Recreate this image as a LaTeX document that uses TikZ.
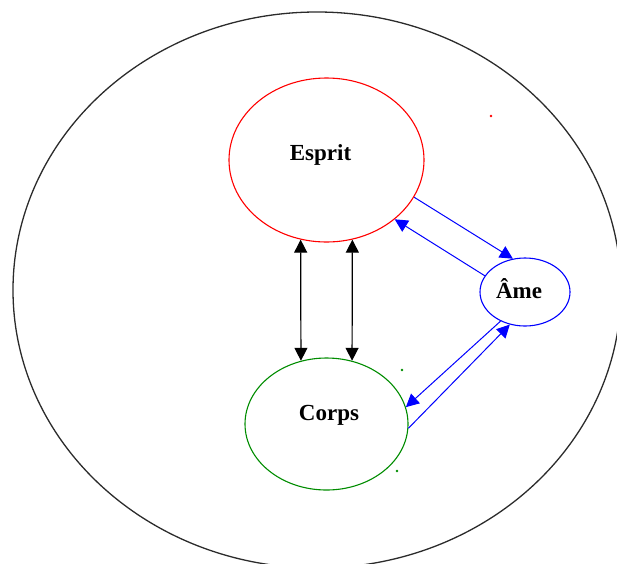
\documentclass[tikz,border=0pt]{standalone}
\usepackage{fontspec}
\setmainfont{Liberation Serif}
\usetikzlibrary{shapes.geometric,arrows.meta}
\definecolor{rouge}{HTML}{FF0000}
\definecolor{vert}{HTML}{008C00}
\definecolor{bleu}{HTML}{0000FF}
\definecolor{encre}{HTML}{2B2B2B}
\tikzset{
  bulle/.style={ellipse,inner sep=0pt,line width=1.1pt},
  nom/.style={font=\fontsize{23}{27}\selectfont\bfseries,text=black},
  lien/.style={{Triangle[length=13pt,width=13pt]}-{Triangle[length=13pt,width=13pt]},line width=1.2pt,black},
  fleche/.style={-{Triangle[length=13pt,width=13pt]},line width=1pt,bleu}
}

\begin{document}
\begin{tikzpicture}[x=1pt,y=-1pt]
  \useasboundingbox (0,0) rectangle (617,563);
  % cadre
  \draw[encre,line width=1.3pt] (317,290) ellipse [x radius=304,y radius=278];
  % les trois bulles
  \node[bulle,draw=rouge,minimum width=195pt,minimum height=164pt,
        label={[nom,xshift=-6pt,yshift=5pt]center:Esprit}] (esprit) at (326.5,160) {};
  \node[bulle,draw=vert,minimum width=163pt,minimum height=132pt,
        label={[nom,xshift=2.5pt,yshift=9pt]center:Corps}] (corps) at (326.5,424) {};
  \node[bulle,draw=bleu,minimum width=90pt,minimum height=68pt,
        label={[nom,xshift=-6pt,yshift=3pt]center:Âme}] (ame) at (525,292) {};
  % esprit <-> corps
  \draw[lien] (esprit.252) -- (corps.112);
  \draw[lien] (esprit.288) -- (corps.68);
  % liens avec l'ame
  \draw[fleche] (esprit.337) -- (ame.110);
  \draw[fleche] (ame.158) -- (esprit.319);
  \draw[fleche] (ame.230) -- (corps.12);
  \draw[fleche] (corps.357) -- (ame.245);
  % points isoles
  \fill[rouge] (491,116) circle (1.3);
  \fill[vert] (402,370) circle (1.3);
  \fill[vert] (397,471) circle (1.3);
\end{tikzpicture}
\end{document}
